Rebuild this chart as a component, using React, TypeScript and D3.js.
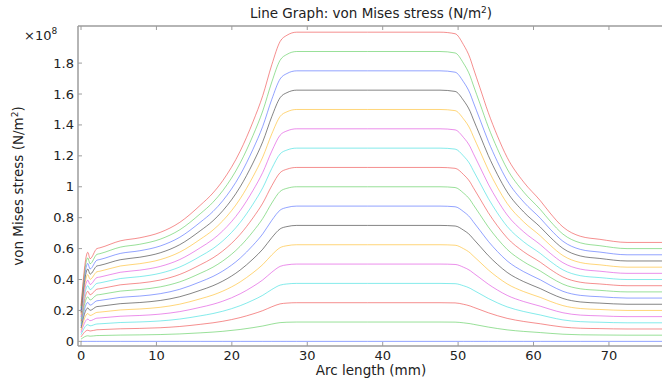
import React from 'react';
import * as d3 from 'd3';

// Arc length sample points (mm) of the topmost (highest load) curve
const arcLength = [0, 0.9, 1.2, 2.1, 2.5, 5.2, 7.8, 10.5, 13.1, 15.8, 17.5, 18.8, 21.1, 22.8, 24.1, 25.3, 26.4, 27.3, 28.6, 38, 47.6, 49.6, 50.7, 51.6, 52, 52.9, 54, 55.2, 56.5, 58.7, 60.9, 62.2, 63.9, 66.2, 68.8, 72.4, 77.3];
// von Mises stress (x1e8 N/m^2) of the topmost curve
const topStress = [0.23, 0.576, 0.535, 0.6, 0.605, 0.65, 0.67, 0.705, 0.77, 0.88, 0.96, 1.04, 1.23, 1.42, 1.59, 1.79, 1.94, 1.98, 2.0, 2.0, 2.0, 1.99, 1.92, 1.83, 1.77, 1.64, 1.48, 1.33, 1.19, 1.03, 0.91, 0.83, 0.74, 0.68, 0.66, 0.64, 0.64];
// Plateau level (x1e8) of each curve in the sweep, bottom to top
const plateauLevels = [0, 0.125, 0.25, 0.375, 0.5, 0.625, 0.75, 0.875, 1.0, 1.125, 1.25, 1.375, 1.5, 1.625, 1.75, 1.875, 2.0];
const seriesColors = ['#4a66ff', '#55cc55', '#ee4444', '#33dddd', '#dd44dd', '#ffbb22', '#333333'];
const xTicks = [0, 10, 20, 30, 40, 50, 60, 70];
const yTicks = [0, 0.2, 0.4, 0.6, 0.8, 1, 1.2, 1.4, 1.6, 1.8];

const W = 662;
const H = 381;
const left = 78, right = 664, top = 26, bottom = 346;
const font = '"DejaVu Sans", sans-serif';
const axisColor = '#9c9c9c';

export default function App() {
  const x = d3.scaleLinear().domain([-0.4, 77.3]).range([left, right]);
  const y = d3.scaleLinear().domain([-0.03, 2.04]).range([bottom, top]);
  const topMax = d3.max(topStress) as number;

  const line = d3
    .line<[number, number]>()
    .x((d) => x(d[0]))
    .y((d) => y(d[1]))
    .curve(d3.curveMonotoneX);

  const series = plateauLevels.map((lvl, i) => ({
    color: seriesColors[i % seriesColors.length],
    pts: arcLength.map((a, j) => [a, (topStress[j] * lvl) / topMax] as [number, number]),
  }));

  return (
    <svg
      width={W}
      height={H}
      style={{ position: 'absolute', left: 0, top: 0, background: '#fff' }}
      fontFamily={font}
    >
      <defs>
        <clipPath id="plot">
          <rect x={left} y={top} width={right - left} height={bottom - top} />
        </clipPath>
      </defs>
      <rect x={0} y={0} width={W} height={H} fill="#fff" />

      <g clipPath="url(#plot)">
        {series.map((s, i) => (
          <path
            key={i}
            d={line(s.pts) || ''}
            fill="none"
            stroke={s.color}
            strokeOpacity={0.6}
            strokeWidth={1}
          />
        ))}
      </g>

      {/* axes frame */}
      <g stroke={axisColor} strokeWidth={1.5} fill="none">
        <line x1={left} x2={right} y1={top} y2={top} />
        <line x1={left} x2={right} y1={bottom} y2={bottom} />
        <line x1={left} x2={left} y1={top} y2={bottom} />
      </g>
      {/* ticks */}
      <g stroke={axisColor} strokeWidth={1}>
        {xTicks.map((t) => (
          <g key={'xt' + t}>
            <line x1={x(t)} x2={x(t)} y1={bottom} y2={bottom - 4} />
            <line x1={x(t)} x2={x(t)} y1={top} y2={top + 4} />
          </g>
        ))}
        {yTicks.map((t) => (
          <line key={'yt' + t} x1={left} x2={left + 4} y1={y(t)} y2={y(t)} />
        ))}
      </g>

      {/* tick labels */}
      <g fontSize={13} fill="#222">
        {xTicks.map((t) => (
          <text key={'xl' + t} x={x(t)} y={360} textAnchor="middle">
            {t}
          </text>
        ))}
        {yTicks.map((t) => (
          <text key={'yl' + t} x={74} y={y(t) + 4.5} textAnchor="end">
            {d3.format('~g')(t)}
          </text>
        ))}
      </g>

      {/* exponent */}
      <text x={24} y={40} fontSize={13} fill="#222">
        ×10
        <tspan dy={-6} fontSize={9}>8</tspan>
      </text>

      {/* title */}
      <text x={371} y={18} fontSize={13.5} textAnchor="middle" fill="#222">
        Line Graph: von Mises stress (N/m
        <tspan dy={-5} fontSize={9}>2</tspan>
        <tspan dy={5}>)</tspan>
      </text>

      {/* x label */}
      <text x={371} y={375} fontSize={13.5} textAnchor="middle" fill="#222">
        Arc length (mm)
      </text>

      {/* y label */}
      <text
        transform={`translate(23,${(top + bottom) / 2}) rotate(-90)`}
        fontSize={13.5}
        textAnchor="middle"
        fill="#222"
      >
        von Mises stress (N/m
        <tspan dy={-5} fontSize={9}>2</tspan>
        <tspan dy={5}>)</tspan>
      </text>
    </svg>
  );
}
